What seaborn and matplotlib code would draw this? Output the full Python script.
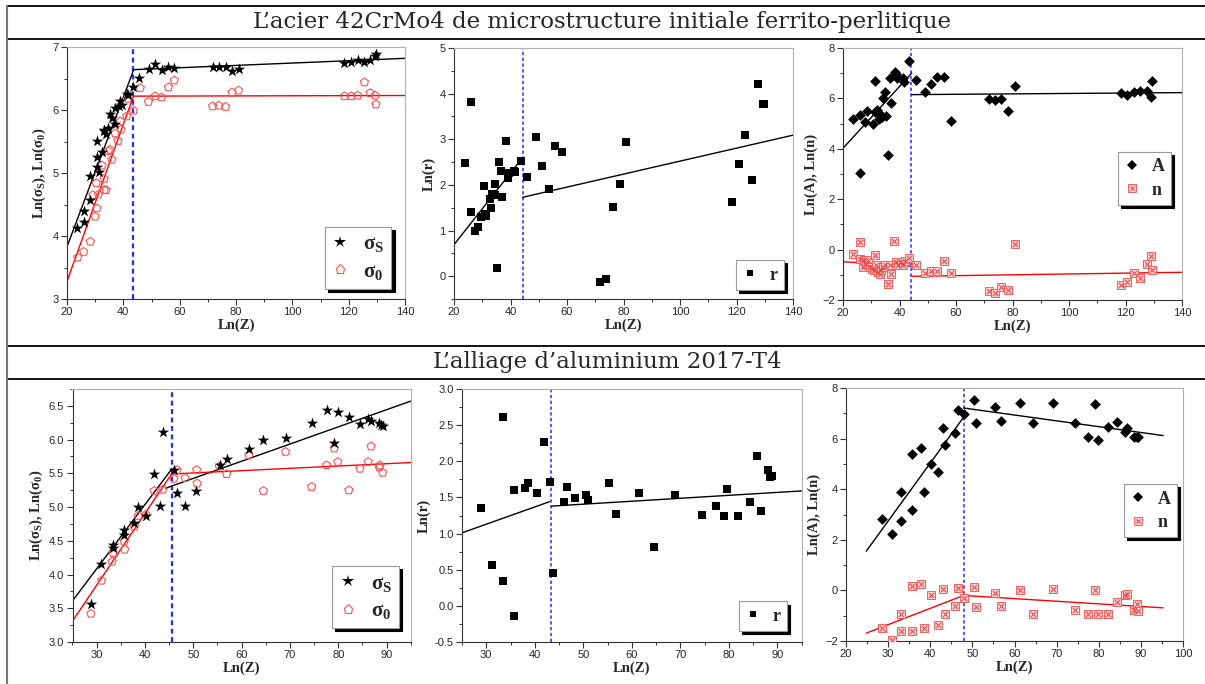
import matplotlib.pyplot as plt
import seaborn as sns
from matplotlib.lines import Line2D
from matplotlib.ticker import MultipleLocator
from matplotlib.legend_handler import HandlerTuple

# --- data ---

# steel 42CrMo4
steel_s_z = [23.5, 25.9, 26.1, 28.3, 28.3, 30.6, 30.6, 31.2, 30.6, 32.4, 33.0, 33.2, 33.9, 34.7, 35.3, 35.9,
             37.1, 37.1, 38.3, 38.9, 39.5, 41.2, 41.6, 43.6, 45.7, 49.1, 51.3, 53.6, 56.0, 58.1, 71.7, 73.9,
             76.3, 78.6, 80.9, 118.5, 120.9, 123.2, 125.6, 127.6, 129.4, 129.7]
steel_s_val = [4.13, 4.22, 4.39, 4.57, 4.96, 5.10, 5.26, 5.02, 5.51, 5.34, 5.66, 5.69, 5.62, 5.72, 5.94, 5.87,
               5.77, 6.03, 6.06, 6.15, 6.08, 6.25, 6.24, 6.36, 6.51, 6.65, 6.73, 6.63, 6.68, 6.66, 6.68, 6.69,
               6.68, 6.62, 6.65, 6.75, 6.76, 6.79, 6.76, 6.80, 6.85, 6.89]
steel_0_z = [23.8, 25.9, 28.3, 30.6, 30.0, 29.2, 31.2, 30.4, 32.4, 33.2, 33.2, 33.9, 34.7, 35.3, 35.9, 37.1,
             38.1, 38.9, 39.2, 41.2, 41.6, 43.6, 46.0, 48.9, 51.3, 53.6, 56.0, 58.1, 71.7, 73.9, 76.3, 78.6,
             80.9, 118.5, 120.9, 123.2, 125.6, 127.6, 129.4, 129.7]
steel_0_val = [3.66, 3.75, 3.91, 4.44, 4.31, 4.65, 4.66, 4.84, 5.12, 4.91, 4.73, 4.73, 5.35, 5.37, 5.21, 5.63,
               5.51, 5.82, 5.69, 5.90, 6.18, 5.99, 6.35, 6.13, 6.22, 6.20, 6.36, 6.47, 6.06, 6.07, 6.05, 6.28,
               6.31, 6.22, 6.22, 6.23, 6.44, 6.27, 6.23, 6.09]
steel_r_z = [23.8, 26.1, 26.1, 27.6, 28.5, 29.4, 30.6, 30.9, 31.4, 33.0, 32.6, 33.5, 34.4, 34.6, 35.9, 36.5,
             37.1, 38.3, 39.1, 39.5, 41.2, 41.7, 43.6, 35.3, 46.0, 48.9, 51.3, 53.6, 55.9, 58.2, 71.7, 73.9,
             76.3, 78.6, 80.9, 118.5, 120.8, 123.0, 125.4, 127.6, 129.4, 129.7]
steel_r_val = [2.48, 3.82, 1.40, 0.99, 1.08, 1.30, 1.98, 1.36, 1.32, 1.49, 1.69, 1.79, 2.03, 1.78, 2.51, 2.30,
               1.73, 2.96, 2.16, 2.27, 2.30, 2.28, 2.52, 0.17, 2.18, 3.04, 2.42, 1.92, 2.85, 2.72, -0.13, -0.07,
               1.52, 2.03, 2.93, 1.62, 2.46, 3.10, 2.11, 4.21, 3.78, 3.78]
steel_a_z = [23.5, 25.9, 25.9, 27.8, 28.5, 30.6, 31.2, 31.2, 32.0, 32.7, 33.2, 33.9, 34.2, 34.7, 35.3, 35.9,
             36.8, 37.1, 38.3, 38.9, 39.1, 41.2, 41.6, 43.4, 46.0, 48.9, 51.3, 53.4, 55.8, 58.1, 71.6, 73.9,
             76.0, 78.4, 80.8, 118.5, 120.6, 123.0, 125.2, 127.6, 129.1, 129.4]
steel_a_val = [5.18, 5.34, 3.05, 5.07, 5.50, 4.98, 6.69, 5.47, 5.54, 5.18, 5.38, 5.27, 6.00, 6.24, 5.31, 3.77,
               6.79, 5.83, 7.06, 6.95, 6.82, 6.82, 6.64, 7.50, 6.75, 6.24, 6.57, 6.86, 6.83, 5.10, 5.97, 5.93,
               5.97, 5.50, 6.50, 6.23, 6.13, 6.26, 6.29, 6.30, 6.07, 6.69]
steel_n_z = [23.5, 25.9, 25.9, 27.1, 27.4, 28.3, 28.8, 29.4, 30.3, 30.8, 31.2, 31.8, 32.4, 33.0, 33.5, 34.2,
             35.0, 35.9, 36.5, 37.1, 38.0, 38.9, 39.5, 40.4, 41.2, 41.8, 43.4, 46.0, 48.9, 51.3, 53.4, 55.8,
             58.1, 71.6, 73.9, 76.0, 78.4, 80.8, 118.5, 120.6, 123.0, 125.2, 127.6, 129.1, 129.4]
steel_n_val = [-0.16, 0.30, -0.36, -0.69, -0.42, -0.56, -0.42, -0.69, -0.75, -0.82, -0.23, -0.62, -0.89, -0.95,
               -0.79, -0.69, -0.60, -1.35, -0.62, -0.95, 0.34, -0.49, -0.62, -0.49, -0.62, -0.46, -0.33, -0.62,
               -0.91, -0.86, -0.86, -0.46, -0.91, -1.66, -1.72, -1.50, -1.59, 0.24, -1.39, -1.28, -0.93, -1.13,
               -0.56, -0.25, -0.79]

# aluminium 2017-T4
alu_s_z = [28.8, 31.0, 33.3, 33.4, 35.7, 35.7, 37.8, 38.6, 40.2, 41.9, 43.2, 43.7, 46.0, 46.6, 48.3, 50.6,
           55.5, 56.9, 61.5, 64.5, 69.1, 74.5, 77.6, 79.2, 79.9, 82.2, 84.5, 86.2, 86.8, 88.5, 88.8, 89.2]
alu_s_val = [3.56, 4.15, 4.44, 4.40, 4.66, 4.59, 4.77, 5.00, 4.87, 5.49, 5.02, 6.11, 5.55, 5.21, 5.01, 5.24,
             5.63, 5.71, 5.86, 6.00, 6.02, 6.25, 6.44, 5.95, 6.41, 6.33, 6.23, 6.30, 6.27, 6.25, 6.22, 6.20]
alu_0_z = [28.8, 31.0, 33.2, 33.4, 35.7, 35.8, 37.8, 38.6, 40.2, 41.9, 43.7, 46.0, 46.6, 48.3, 50.7, 50.8,
           55.4, 56.9, 61.5, 64.5, 69.1, 74.5, 77.6, 79.2, 79.9, 82.2, 84.5, 86.2, 86.8, 88.5, 88.6, 89.2]
alu_0_val = [3.42, 3.91, 4.19, 4.32, 4.49, 4.37, 4.71, 4.87, 4.89, 5.24, 5.26, 5.42, 5.55, 5.43, 5.55, 5.35,
             5.60, 5.49, 5.77, 5.24, 5.82, 5.30, 5.62, 5.87, 5.67, 5.25, 5.57, 5.67, 5.90, 5.59, 5.62, 5.51]
alu_r_z = [29.0, 31.2, 33.4, 33.5, 35.8, 35.8, 37.9, 38.7, 40.4, 42.0, 43.2, 43.7, 46.0, 46.6, 48.3, 50.6,
           50.9, 55.4, 56.8, 61.4, 64.5, 69.0, 74.4, 77.4, 79.0, 79.7, 82.0, 84.3, 85.9, 86.6, 88.1, 88.6, 89.0]
alu_r_val = [1.36, 0.57, 0.34, 2.61, 1.60, -0.14, 1.63, 1.70, 1.56, 2.26, 1.71, 0.46, 1.43, 1.64, 1.49, 1.54,
             1.46, 1.70, 1.27, 1.56, 0.81, 1.54, 1.26, 1.38, 1.24, 1.61, 1.24, 1.44, 2.07, 1.31, 1.88, 1.78, 1.79]
alu_an_z = [28.5, 30.9, 33.1, 33.1, 35.6, 35.6, 37.8, 38.4, 40.2, 41.9, 43.1, 43.6, 45.8, 46.5, 48.1, 50.4,
            50.8, 55.4, 56.7, 61.4, 64.5, 69.1, 74.4, 77.5, 79.1, 79.9, 82.2, 84.4, 86.2, 86.8, 88.4, 89.0, 89.4]
alu_a_val = [2.84, 2.21, 3.90, 2.75, 5.41, 3.17, 5.62, 3.90, 4.99, 4.67, 6.42, 5.75, 6.24, 7.14, 6.97, 7.51,
             6.61, 7.25, 6.71, 7.42, 6.61, 7.42, 6.61, 6.05, 7.37, 5.93, 6.44, 6.65, 6.28, 6.42, 6.06, 6.05, 6.05]
alu_n_val = [-1.48, -1.96, -0.95, -1.59, 0.17, -1.59, 0.26, -1.48, -0.20, -1.36, 0.07, -0.95, -0.60, 0.09,
             -0.30, 0.12, -0.66, -0.09, -0.63, 0.00, -0.95, 0.07, -0.79, -0.93, 0.03, -0.95, -0.95, -0.46,
             -0.20, -0.13, -0.77, -0.53, -0.82]

# fitted segments (x0, x1, y0, y1) and the transition value
steel_fit_s = [(20, 43.6, 3.83, 6.63), (43.6, 140, 6.64, 6.82)]
steel_fit_0 = [(20, 43.6, 3.28, 6.22), (43.6, 140, 6.22, 6.23)]
steel_fit_r = [(20, 43.8, 0.69, 2.56), (44.4, 140, 1.73, 3.09)]
steel_fit_a = [(20, 44.3, 4.02, 7.00), (44.3, 140, 6.15, 6.23)]
steel_fit_n = [(20, 44.3, -0.48, -0.66), (44.3, 140, -1.06, -0.90)]
alu_fit_s = [(25, 45.5, 3.61, 5.56), (44.3, 95, 5.28, 6.57)]
alu_fit_0 = [(25, 45.5, 3.31, 5.49), (45.5, 95, 5.49, 5.66)]
alu_fit_r = [(25, 43.0, 1.01, 1.44), (43.5, 95, 1.38, 1.59)]
alu_fit_a = [(24.8, 47.9, 1.55, 6.84), (47.9, 95.3, 7.21, 6.12)]
alu_fit_n = [(24.8, 47.9, -1.69, -0.20), (47.9, 95.3, -0.20, -0.69)]
cuts = [43.5, 44.3, 44.2, 45.65, 43.3, 47.9]

titles = ["L’acier 42CrMo4 de microstructure initiale ferrito-perlitique",
          "L’alliage d’aluminium 2017-T4"]

# --- style ---
sns.set_style("ticks")
plt.rcParams['font.family'] = ['Liberation Sans', 'DejaVu Sans']
plt.rcParams['mathtext.fontset'] = 'custom'
plt.rcParams['mathtext.rm'] = 'Liberation Serif:bold'
plt.rcParams['mathtext.it'] = 'Liberation Serif:bold'
plt.rcParams['mathtext.bf'] = 'Liberation Serif:bold'

W, H = 1205, 684
fig = plt.figure(figsize=(W / 100, H / 100), dpi=100)

RED = '#ff5050'
BLUE = '#2a2aff'
serif_b = dict(family='Liberation Serif', weight='bold')


def add_ax(l, t, r, b):
    return fig.add_axes([l / W, 1 - b / H, (r - l) / W, (b - t) / H])


def setup(ax, xlim, ylim, xmaj, ymaj, ylabel, cut, cut_lw, yfmt=None):
    ax.set_xlim(xlim)
    ax.set_ylim(ylim)
    ax.xaxis.set_major_locator(MultipleLocator(xmaj))
    ax.xaxis.set_minor_locator(MultipleLocator(xmaj / 2))
    ax.yaxis.set_major_locator(MultipleLocator(ymaj))
    ax.yaxis.set_minor_locator(MultipleLocator(ymaj / 2))
    if yfmt:
        ax.yaxis.set_major_formatter(yfmt)
    ax.tick_params(which='major', direction='out', length=4, width=0.8, labelsize=8, pad=2, color='#333333')
    ax.tick_params(which='minor', direction='out', length=2.2, width=0.7, color='#333333')
    for side in ['top', 'right']:
        ax.spines[side].set_color('#b0b0b0')
    for side in ['left', 'bottom']:
        ax.spines[side].set_color('#333333')
    for sp in ax.spines.values():
        sp.set_linewidth(0.8)
    ax.axvline(cut, color=BLUE, ls=(0, (2.2, 1.6)), lw=cut_lw, zorder=1)
    ax.set_xlabel('Ln(Z)', fontsize=10.5, labelpad=1, **serif_b)
    ax.set_ylabel(ylabel, fontsize=10.5, labelpad=3, **serif_b)


def fits(ax, segs, color):
    for x0, x1, y0, y1 in segs:
        ax.plot([x0, x1], [y0, y1], color=color, lw=1.0, zorder=2)


def legend(ax, handles, labels, anchor, size):
    leg = ax.legend(handles, labels, loc='lower right', bbox_to_anchor=anchor, frameon=True, fancybox=False,
                    shadow={'ox': 2.2, 'oy': -2.2, 'color': 'black', 'alpha': 1.0},
                    edgecolor='#9a9a9a', framealpha=1, prop=dict(size=size, **serif_b),
                    handlelength=0.8, handletextpad=0.7, borderpad=0.35, labelspacing=0.35,
                    borderaxespad=0, handler_map={tuple: HandlerTuple(ndivide=1)})
    leg.get_frame().set_linewidth(0.8)


def star(ax, x, y):
    sns.scatterplot(x=x, y=y, ax=ax, marker='*', s=75, color='black', linewidth=0, zorder=3)


def pent(ax, x, y):
    sns.scatterplot(x=x, y=y, ax=ax, marker='p', s=38, facecolor='none', edgecolor=RED, linewidth=0.8, zorder=3)


def square(ax, x, y):
    sns.scatterplot(x=x, y=y, ax=ax, marker='s', s=26, color='black', linewidth=0, zorder=3)


def diamond(ax, x, y):
    sns.scatterplot(x=x, y=y, ax=ax, marker='D', s=30, color='black', linewidth=0, zorder=3)


def nmark(ax, x, y):
    sns.scatterplot(x=x, y=y, ax=ax, marker='s', s=30, facecolor='#fbd0d0', edgecolor='#f06060',
                    linewidth=0.7, zorder=3)
    sns.scatterplot(x=x, y=y, ax=ax, marker='x', s=14, color='#e84040', linewidth=0.7, zorder=3)


h_star = Line2D([], [], ls='none', marker='*', ms=9, color='black', mew=0)
h_pent = Line2D([], [], ls='none', marker='p', ms=6.5, mfc='none', mec=RED, mew=0.8)
h_sq = Line2D([], [], ls='none', marker='s', ms=5, color='black', mew=0)
h_dia = Line2D([], [], ls='none', marker='D', ms=5.5, color='black', mew=0)
h_n = (Line2D([], [], ls='none', marker='s', ms=5.5, mfc='#fbd0d0', mec='#f06060', mew=0.7),
       Line2D([], [], ls='none', marker='x', ms=3.5, color='#e84040', mew=0.7))

lab_sig = r'Ln($\sigma_S$), Ln($\sigma_0$)'
lab_r = 'Ln(r)'
lab_an = 'Ln(A), Ln(n)'
sig_labels = [r'$\sigma_S$', r'$\sigma_0$']

# --- top row: steel ---
ax1 = add_ax(67, 47, 405, 299)
setup(ax1, (20, 140), (3, 7), 20, 1, lab_sig, cuts[0], 1.6)
fits(ax1, steel_fit_s, 'black')
fits(ax1, steel_fit_0, 'red')
pent(ax1, steel_0_z, steel_0_val)
star(ax1, steel_s_z, steel_s_val)
legend(ax1, [h_star, h_pent], sig_labels, (0.96, 0.04), 15)

ax2 = add_ax(454, 48, 793, 299)
setup(ax2, (20, 140), (-0.5, 5), 20, 1, lab_r, cuts[1], 1.1)
fits(ax2, steel_fit_r, 'black')
square(ax2, steel_r_z, steel_r_val)
legend(ax2, [h_sq], ['r'], (0.973, 0.036), 13)

ax3 = add_ax(843, 48, 1182, 300)
setup(ax3, (20, 140), (-2, 8), 20, 2, lab_an, cuts[2], 1.1)
fits(ax3, steel_fit_a, 'black')
fits(ax3, steel_fit_n, 'red')
nmark(ax3, steel_n_z, steel_n_val)
diamond(ax3, steel_a_z, steel_a_val)
legend(ax3, [h_dia, h_n], ['A', 'n'], (0.968, 0.377), 13)

# --- bottom row: aluminium ---
fmt1 = plt.FormatStrFormatter('%.1f')
ax4 = add_ax(72.5, 389, 410.7, 642)
setup(ax4, (25, 95), (3.0, 6.75), 10, 0.5, lab_sig, cuts[3], 1.6, fmt1)
fits(ax4, alu_fit_s, 'black')
fits(ax4, alu_fit_0, 'red')
pent(ax4, alu_0_z, alu_0_val)
star(ax4, alu_s_z, alu_s_val)
legend(ax4, [h_star, h_pent], sig_labels, (0.966, 0.055), 15)

ax5 = add_ax(462, 389, 801.5, 642)
setup(ax5, (25, 95), (-0.5, 3.0), 10, 0.5, lab_r, cuts[4], 1.1, fmt1)
fits(ax5, alu_fit_r, 'black')
square(ax5, alu_r_z, alu_r_val)
legend(ax5, [h_sq], ['r'], (0.957, 0.043), 13)

ax6 = add_ax(846, 388, 1183, 641)
setup(ax6, (20, 100), (-2, 8), 10, 2, lab_an, cuts[5], 1.1)
fits(ax6, alu_fit_a, 'black')
fits(ax6, alu_fit_n, 'red')
nmark(ax6, alu_an_z, alu_n_val)
diamond(ax6, alu_an_z, alu_a_val)
legend(ax6, [h_dia, h_n], ['A', 'n'], (0.982, 0.41), 13)

# --- table frame and headings ---
for yy in [6, 39, 346, 379]:
    fig.add_artist(Line2D([7 / W, 1], [1 - yy / H, 1 - yy / H], transform=fig.transFigure,
                          color='black', lw=1.3))
fig.add_artist(Line2D([7 / W, 7 / W], [0, 1 - 6 / H], transform=fig.transFigure, color='#777777', lw=1.5))

fig.text(602 / W, 1 - 22 / H, titles[0], ha='center', va='center', fontsize=16.5, family='DejaVu Serif')
fig.text(607 / W, 1 - 362 / H, titles[1], ha='center', va='center', fontsize=16.5, family='DejaVu Serif')

fig.savefig('out.png', dpi=100)
